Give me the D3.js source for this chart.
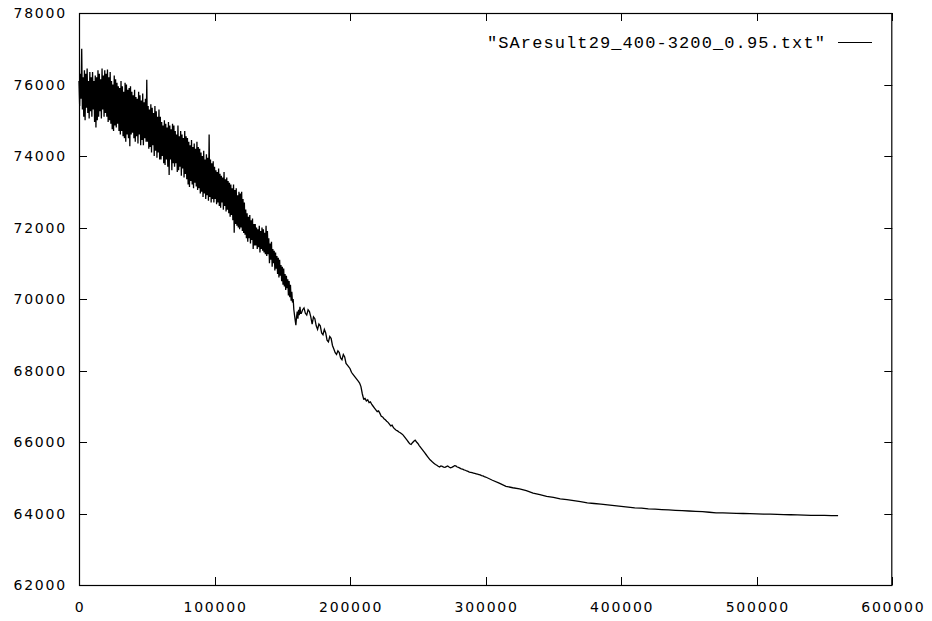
<!DOCTYPE html>
<html>
<head>
<meta charset="utf-8">
<script src="https://cdn.jsdelivr.net/npm/d3@7"></script>
<style>
  html, body { margin: 0; padding: 0; background: #fff; }
  svg { display: block; }
  .tick-label { font-family: "DejaVu Sans", sans-serif; font-size: 14px; letter-spacing: 1.8px; fill: #000; }
  .key-label { font-family: "Liberation Mono", monospace; font-size: 17px; letter-spacing: 1.1px; fill: #000; }
</style>
</head>
<body>
<svg id="chart" width="932" height="621"></svg>
<script>
// Annealing run: cost per iteration
const seriesName = "\"SAresult29_400-3200_0.95.txt\"";

// Early phase, one sample every 500 iterations (0 .. 163500)
const earlyStep = 500;
const earlyValues = [
  76100, 75400, 76300, 75600, 77000, 75300, 76200, 75100, 76400, 75000,
  76300, 75350, 76450, 75200, 76100, 75050, 76350, 75250, 76200, 75100,
  76350, 75300, 76100, 74950, 76250, 74800, 76200, 75000, 76400, 75100,
  76300, 75250, 76150, 75050, 76450, 75300, 76250, 75100, 76400, 75200,
  76300, 75100, 76420, 74950, 76200, 75000, 76350, 74900, 76100, 74750,
  76000, 74700, 76250, 74850, 76150, 74800, 76050, 74900, 75950, 74700,
  75900, 74600, 76100, 74700, 75950, 74550, 75800, 74500, 76050, 74400,
  76000, 74600, 75850, 74500, 75900, 74270, 75950, 74600, 75800, 74650,
  75700, 74500, 75850, 74400, 75650, 74550, 75600, 74350, 75800, 74600,
  75700, 74300, 75550, 74450, 75750, 74300, 75500, 74500, 75600, 74400,
  76130, 74400, 75400, 74200, 75300, 74250, 75450, 74100, 75350, 74300,
  75200, 74000, 75400, 74150, 75250, 73950, 75100, 74100, 75300, 73900,
  75100, 73900, 74950, 74000, 74850, 73800, 75000, 73750, 74900, 73900,
  74800, 73700, 74950, 73470, 74850, 73900, 74750, 73600, 74900, 73800,
  74850, 73700, 74700, 73800, 74600, 73550, 74850, 73600, 74550, 73700,
  74700, 73450, 74600, 73650, 74500, 73400, 74700, 73500, 74550, 73350,
  74500, 73200, 74400, 73130, 74300, 73300, 74450, 73200, 74250, 73100,
  74350, 73250, 74200, 73150, 74400, 73050, 74250, 73100, 74200, 72950,
  74100, 73000, 74000, 72850, 74150, 72950, 73900, 72800, 74050, 72900,
  73950, 72750, 74600, 72850, 73900, 72700, 73800, 72800, 73850, 72700,
  73700, 72800, 73600, 72650, 73550, 72700, 73650, 72600, 73500, 72550,
  73450, 72700, 73400, 72500, 73550, 72600, 73350, 72450, 73400, 72500,
  73300, 72400, 73250, 72300, 73200, 72350, 73100, 72200, 73200, 71850,
  73050, 72100, 73100, 72050, 72900, 72000, 73000, 71950, 72950, 72000,
  73000, 71900, 72800, 71850, 72700, 71800, 72500, 71700, 72400, 71600,
  72300, 71700, 72350, 71550, 72200, 71650, 72250, 71400, 72100, 71500,
  72100, 71500, 72000, 71400, 71950, 71450, 72050, 71300, 71900, 71400,
  72000, 71350, 71950, 71300, 71850, 71250, 72050, 71200, 71900, 71250,
  71700, 71000, 71550, 71100, 71600, 70900, 71400, 71000, 71350, 70800,
  71300, 70850, 71200, 70700, 71150, 70600, 71100, 70650, 70950, 70500,
  70900, 70400, 70850, 70350, 70700, 70250, 70650, 70300, 70550, 70100,
  70500, 70050, 70400, 69950, 70200, 69900, 70000, 69700, 69550, 69400,
  69270, 69500, 69650, 69450, 69700, 69550, 69780, 69600
];

// Middle phase, one sample every 1000 iterations (164000 .. 300000)
const midStart = 164000;
const midStep = 1000;
const midValues = [
  69600, 69700, 69750, 69600, 69550, 69700, 69650, 69500, 69300, 69500,
  69450, 69250, 69150, 69300, 69250, 69050, 69000, 69150, 69050, 68850,
  68800, 68950, 68900, 68700, 68600, 68500, 68450, 68550, 68500, 68350,
  68300, 68450, 68380, 68200, 68150, 68100, 68050, 67950, 67900, 67850,
  67800, 67750, 67700, 67650, 67550, 67350, 67200, 67220, 67150, 67180,
  67100, 67120, 67050, 67000, 66950, 66900, 66850, 66870, 66800, 66720,
  66700, 66650, 66620, 66580, 66550, 66500, 66450, 66470, 66400, 66360,
  66330, 66310, 66280, 66260, 66230, 66200, 66150, 66100, 66050, 66000,
  65950, 65930, 65980, 66020, 66050, 66000, 65960, 65900, 65850, 65800,
  65750, 65700, 65650, 65600, 65550, 65500, 65470, 65430, 65400, 65370,
  65350, 65320, 65300, 65330, 65320, 65300, 65290, 65310, 65330, 65300,
  65280, 65290, 65310, 65340, 65330, 65300, 65290, 65270, 65250, 65240,
  65220, 65210, 65190, 65180, 65160, 65150, 65140, 65130, 65120, 65110,
  65100, 65090, 65080, 65060, 65050, 65030, 65020
];

// Late phase, one sample every 5000 iterations (305000 .. 560000)
const lateStart = 305000;
const lateStep = 5000;
const lateValues = [
  64930, 64850, 64760, 64720, 64690, 64640, 64570, 64530, 64480, 64450,
  64410, 64390, 64360, 64330, 64300, 64280, 64260, 64240, 64220, 64200,
  64180, 64160, 64150, 64130, 64120, 64110, 64100, 64090, 64080, 64070,
  64060, 64050, 64035, 64020, 64015, 64010, 64005, 64000, 63995, 63990,
  63985, 63980, 63975, 63970, 63965, 63960, 63955, 63950, 63948, 63945,
  63942, 63940
];

const xTickValues = [0, 100000, 200000, 300000, 400000, 500000, 600000];
const yTickValues = [62000, 64000, 66000, 68000, 70000, 72000, 74000, 76000, 78000];

const points = [
  ...earlyValues.map((v, i) => [i * earlyStep, v]),
  ...midValues.map((v, i) => [midStart + i * midStep, v]),
  ...lateValues.map((v, i) => [lateStart + i * lateStep, v])
];

const svg = d3.select("#chart");
const plotLeft = 79, plotRight = 892.3, plotTop = 13, plotBottom = 585;
const tickLen = 8;

const x = d3.scaleLinear().domain([0, 600000]).range([plotLeft, plotRight]);
const y = d3.scaleLinear().domain([62000, 78000]).range([plotBottom, plotTop]);

// Inward ticks on all four sides
const tickG = svg.append("g").attr("stroke", "#000").attr("stroke-width", 1);
xTickValues.forEach(t => {
  const px = Math.round(x(t)) + 0.5;
  tickG.append("line").attr("x1", px).attr("x2", px).attr("y1", plotBottom).attr("y2", plotBottom - tickLen);
  tickG.append("line").attr("x1", px).attr("x2", px).attr("y1", plotTop).attr("y2", plotTop + tickLen);
});
yTickValues.forEach(t => {
  const py = Math.round(y(t)) + 0.5;
  tickG.append("line").attr("x1", plotLeft).attr("x2", plotLeft + tickLen).attr("y1", py).attr("y2", py);
  tickG.append("line").attr("x1", plotRight).attr("x2", plotRight - tickLen).attr("y1", py).attr("y2", py);
});

// Tick labels
svg.append("g").selectAll("text").data(yTickValues).join("text")
  .attr("class", "tick-label")
  .attr("x", 67)
  .attr("y", d => y(d) + 5)
  .attr("text-anchor", "end")
  .text(d => d);

svg.append("g").selectAll("text").data(xTickValues).join("text")
  .attr("class", "tick-label")
  .attr("x", d => x(d) + 1)
  .attr("y", 612)
  .attr("text-anchor", "middle")
  .text(d => d);

// Frame
svg.append("rect")
  .attr("x", plotLeft + 0.5).attr("y", plotTop + 0.5)
  .attr("width", plotRight - plotLeft - 1).attr("height", plotBottom - plotTop)
  .attr("fill", "none").attr("stroke", "#000").attr("stroke-width", 1.2);

// Data line
const line = d3.line().x(d => x(d[0])).y(d => y(d[1]));
svg.append("path")
  .datum(points)
  .attr("d", line)
  .attr("fill", "none")
  .attr("stroke", "#000")
  .attr("stroke-width", 1.3);

// Key
svg.append("text")
  .attr("class", "key-label")
  .attr("x", 826)
  .attr("y", 47.5)
  .attr("text-anchor", "end")
  .text(seriesName);
svg.append("line")
  .attr("x1", 838).attr("x2", 872)
  .attr("y1", 42.5).attr("y2", 42.5)
  .attr("stroke", "#000").attr("stroke-width", 1.2);
</script>
</body>
</html>
